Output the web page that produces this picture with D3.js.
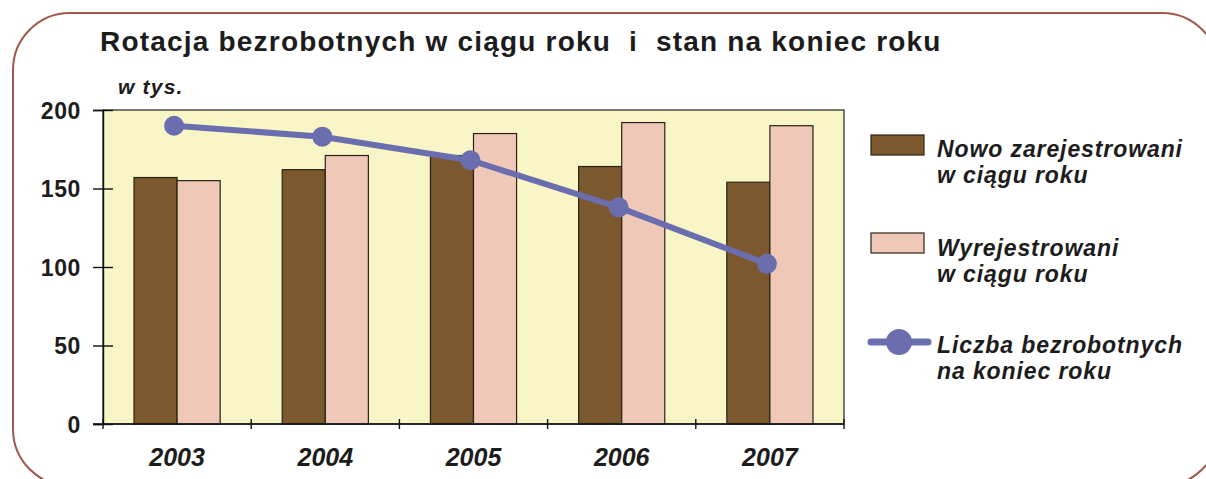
<!DOCTYPE html>
<html><head><meta charset="utf-8">
<script src="https://cdn.jsdelivr.net/npm/d3@7"></script>
<style>html,body{margin:0;padding:0;background:#fff;}svg{display:block;}</style>
</head><body>
<svg id="c" width="1206" height="479"></svg>
<script>
const years = ["2003","2004","2005","2006","2007"];
const nowoZarejestrowani = [157, 162, 171, 164, 154];
const wyrejestrowani = [155, 171, 185, 192, 190];
const liczbaBezrobotnych = [190, 183, 168, 138, 102];
const yTicks = [0, 50, 100, 150, 200];
const seriesNames = ["Nowo zarejestrowani\nw ciągu roku", "Wyrejestrowani\nw ciągu roku", "Liczba bezrobotnych\nna koniec roku"];
const titleText = "Rotacja bezrobotnych w ciągu roku  i  stan na koniec roku";
const unitText = "w tys.";

const C = {bg:"#F8F5C6", brown:"#7B582D", pink:"#F0C8B7", line:"#6B6EAE", border:"#A0584A", text:"#1c1c1c"};
const FONT = "'Liberation Sans', Arial, sans-serif";

const svg = d3.select("#c");
svg.append("rect").attr("x",13).attr("y",13).attr("width",1206).attr("height",473)
  .attr("rx",57).attr("ry",57).attr("fill","none").attr("stroke",C.border).attr("stroke-width",2);

const L = 103, R = 844, T = 110, B = 424;
const x = d3.scaleBand().domain(years).range([L, R]).padding(0);
const xs = d3.scaleBand().domain([0,1]).range([0, x.bandwidth()]).paddingInner(0).paddingOuter(0.72);
const y = d3.scaleLinear().domain([0, 200]).range([B, T]);

svg.append("rect").attr("x",L).attr("y",T).attr("width",R-L).attr("height",B-T)
  .attr("fill",C.bg).attr("stroke","#222").attr("stroke-width",1.2);

svg.append("text").attr("x",100).attr("y",51).attr("font-family",FONT).attr("font-weight","bold")
  .attr("font-size",28).attr("letter-spacing",1.2).attr("fill",C.text).style("white-space","pre").text(titleText);
svg.append("text").attr("x",118).attr("y",94).attr("font-family",FONT).attr("font-weight","bold")
  .attr("font-style","italic").attr("font-size",21).attr("letter-spacing",1.2).attr("fill",C.text).text(unitText);

// bars
const g = svg.append("g");
years.forEach((yr,i)=>{
  [nowoZarejestrowani[i], wyrejestrowani[i]].forEach((v,j)=>{
    g.append("rect").attr("x", x(yr)+xs(j)).attr("y", y(v)).attr("width", xs.bandwidth())
      .attr("height", y(0)-y(v)).attr("fill", j===0?C.brown:C.pink)
      .attr("stroke","#2a2218").attr("stroke-width",1.2);
  });
});

// y axis
const yAxis = d3.axisLeft(y).tickValues(yTicks).tickSize(10).tickPadding(12).tickFormat(d3.format("d"));
const ya = svg.append("g").attr("transform",`translate(${L},0)`).call(yAxis);
ya.select(".domain").attr("stroke","#111").attr("stroke-width",1.4);
ya.selectAll(".tick line").attr("stroke","#111").attr("stroke-width",1.4).attr("x2",10).attr("x1",-10);
ya.selectAll(".tick text").attr("font-family",FONT).attr("font-weight","bold").attr("font-size",23)
  .attr("letter-spacing",0.6).attr("fill",C.text).attr("x",-22).attr("dy","0.36em");

// x axis
const xa = svg.append("g").attr("transform",`translate(0,${B})`)
  .call(d3.axisBottom(x).tickSize(0).tickPadding(18));
xa.select(".domain").attr("stroke","#111").attr("stroke-width",1.4).attr("d",`M${L-10},0H${R}`);
xa.selectAll(".tick text").attr("font-family",FONT).attr("font-weight","bold").attr("font-style","italic")
  .attr("font-size",25).attr("fill",C.text).attr("dy","0.95em");
const bounds = years.map(yr=>x(yr)).concat([R]);
xa.selectAll(".bt").data(bounds).enter().append("line").attr("class","bt")
  .attr("x1",d=>d).attr("x2",d=>d).attr("y1",-5).attr("y2",5).attr("stroke","#111").attr("stroke-width",1.4);

// line
const cx = yr => x(yr) + x.bandwidth()/2 - 3;
svg.append("path").datum(liczbaBezrobotnych)
  .attr("d", d3.line().x((d,i)=>cx(years[i])).y(d=>y(d)))
  .attr("fill","none").attr("stroke",C.line).attr("stroke-width",6);
svg.selectAll(".dot").data(liczbaBezrobotnych).enter().append("circle").attr("class","dot")
  .attr("cx",(d,i)=>cx(years[i])).attr("cy",d=>y(d)).attr("r",10).attr("fill",C.line);

// legend
const leg = svg.append("g");
const legY = [135, 233, 342];
[0,1].forEach(k=>{
  leg.append("rect").attr("x",871).attr("y",legY[k]).attr("width",53).attr("height",20)
    .attr("fill",k===0?C.brown:C.pink).attr("stroke","#2a2218").attr("stroke-width",1.2);
});
leg.append("line").attr("x1",871).attr("x2",928).attr("y1",legY[2]).attr("y2",legY[2])
  .attr("stroke",C.line).attr("stroke-width",7).attr("stroke-linecap","round");
leg.append("circle").attr("cx",899).attr("cy",legY[2]).attr("r",13).attr("fill",C.line);
const textBase = [157, 256, 353];
seriesNames.forEach((nm,k)=>{
  const t = leg.append("text").attr("font-family",FONT).attr("font-weight","bold").attr("font-style","italic")
    .attr("font-size",23).attr("letter-spacing",0.9).attr("fill",C.text);
  nm.split("\n").forEach((ln,li)=>{
    t.append("tspan").attr("x",937).attr("y",textBase[k]+li*25.5).text(ln);
  });
});
</script>
</body></html>
